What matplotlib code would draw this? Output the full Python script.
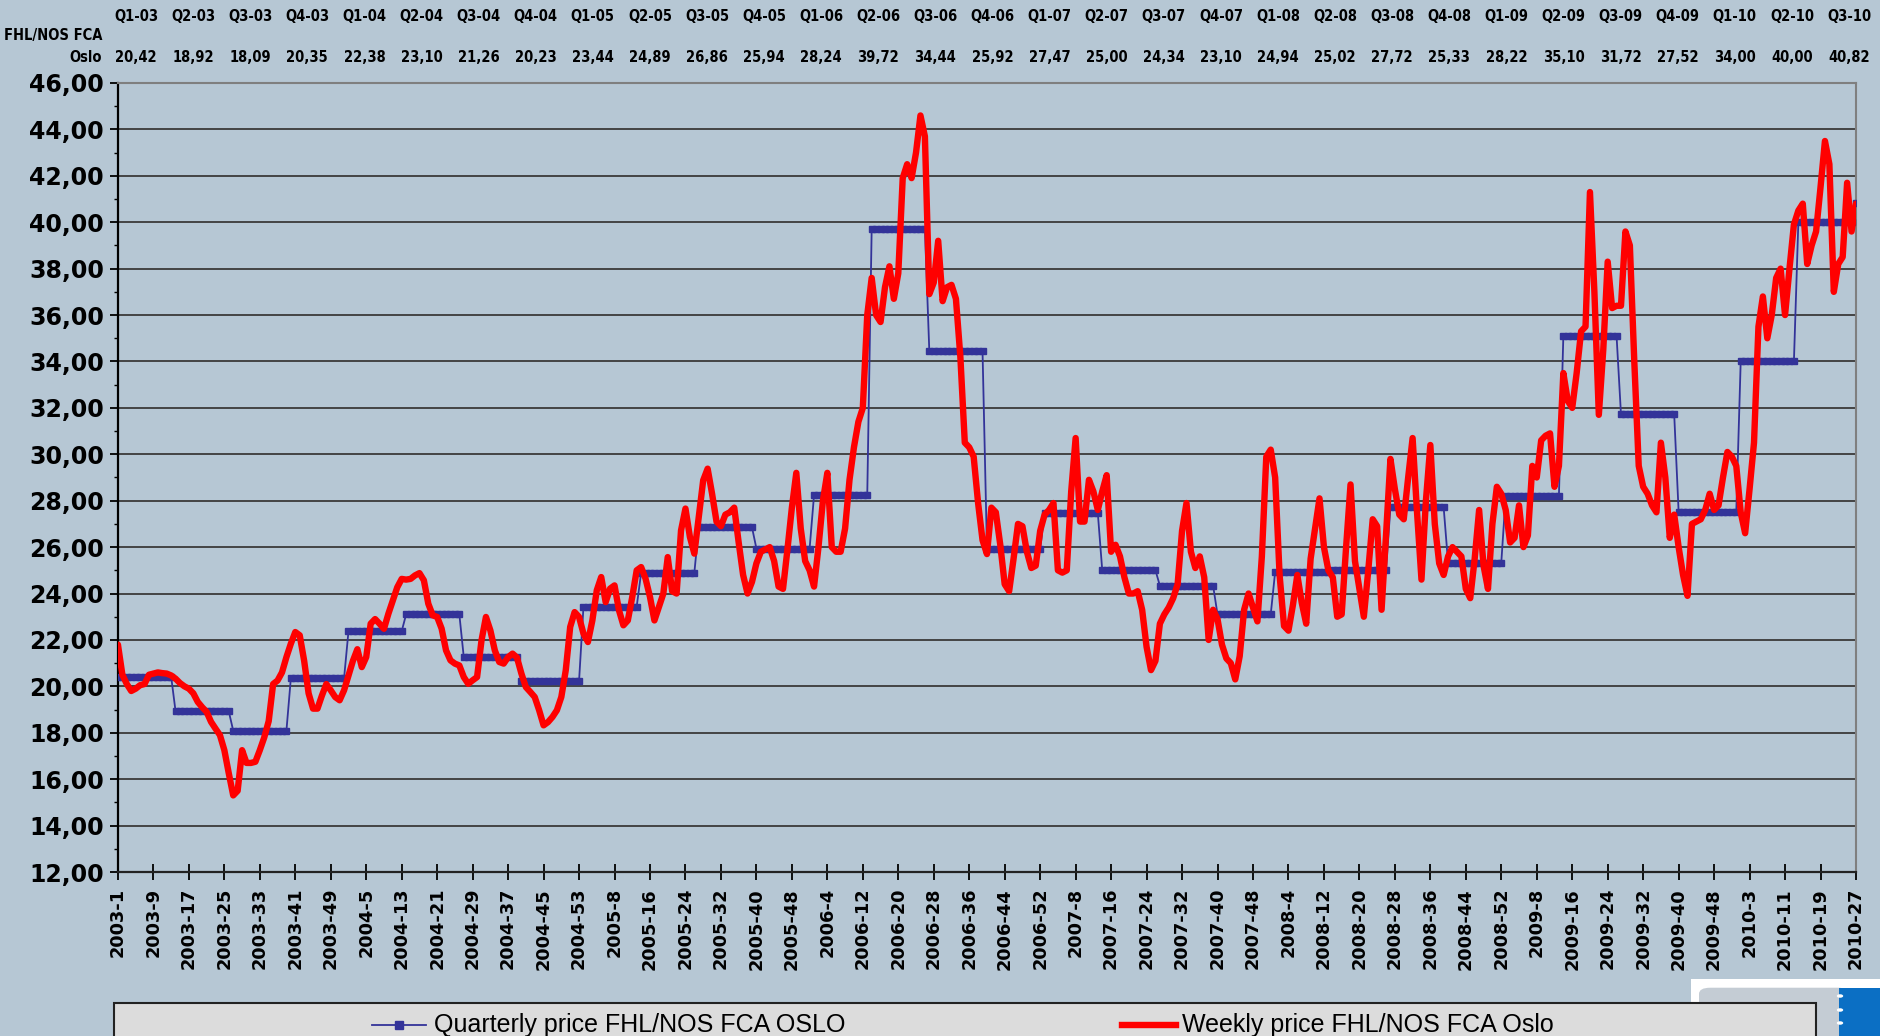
import numpy as np
import matplotlib
matplotlib.use("Agg")
import matplotlib.pyplot as plt
from matplotlib import font_manager
from matplotlib.lines import Line2D
from matplotlib.patches import Rectangle, FancyBboxPatch, Circle

# weekly price FHL/NOS FCA Oslo (NOK/kg), one value per ISO week
weekly_2003 = [21.8, 20.5, 20.1, 19.8, 19.9, 20.05, 20.1, 20.5, 20.55, 20.6,
               20.57, 20.55, 20.47, 20.33, 20.14, 20.0, 19.9, 19.7, 19.33, 19.1,
               18.9, 18.47, 18.18, 17.9, 17.25, 16.25, 15.3, 15.5, 17.25, 16.7,
               16.7, 16.75, 17.25, 17.8, 18.5, 20.1, 20.25, 20.6, 21.26, 21.84,
               22.34, 22.2, 21.1, 19.7, 19.04, 19.04, 19.6, 20.1, 19.83, 19.54,
               19.4, 19.83]
weekly_2004 = [20.47, 21.1, 21.6, 20.83, 21.26, 22.7, 22.9, 22.7, 22.48, 23.13,
               23.7, 24.27, 24.63, 24.6, 24.63, 24.78, 24.88, 24.57, 23.56, 23.06,
               22.99, 22.49, 21.55, 21.12, 20.98, 20.9, 20.4, 20.11, 20.26, 20.4,
               21.98, 22.99, 22.41, 21.55, 21.05, 20.98, 21.26, 21.41, 21.24, 20.55,
               19.97, 19.76, 19.54, 18.97, 18.32, 18.46, 18.68, 18.97, 19.54, 20.69,
               22.56, 23.2, 22.99]
weekly_2005 = [22.27, 21.91, 22.84, 24.14, 24.71, 23.63, 24.21, 24.35, 23.28, 22.63,
               22.84, 23.85, 25.0, 25.14, 24.64, 23.85, 22.84, 23.42, 23.99, 25.57,
               24.1, 24.0, 26.72, 27.66, 26.44, 25.72, 27.3, 28.88, 29.38, 28.3,
               27.1, 26.9, 27.4, 27.5, 27.7, 26.2, 24.8, 24.0, 24.5, 25.3,
               25.8, 25.9, 26.0, 25.4, 24.3, 24.2, 25.9, 27.7, 29.2, 26.8,
               25.4, 25.0]
weekly_2006 = [24.3, 26.0, 28.0, 29.2, 26.0, 25.8, 25.8, 26.8, 28.9, 30.3,
               31.4, 32.0, 36.0, 37.6, 36.0, 35.7, 37.2, 38.1, 36.7, 37.8,
               41.9, 42.5, 41.9, 43.0, 44.6, 43.7, 36.9, 37.4, 39.2, 36.6,
               37.2, 37.3, 36.7, 34.2, 30.5, 30.3, 29.9, 27.9, 26.3, 25.7,
               27.7, 27.5, 26.1, 24.4, 24.1, 25.5, 27.0, 26.9, 25.8, 25.1,
               25.2, 26.7]
weekly_2007 = [27.4, 27.6, 27.9, 25.0, 24.9, 25.0, 28.4, 30.7, 27.1, 27.1,
               28.9, 28.4, 27.6, 28.4, 29.1, 25.8, 26.1, 25.6, 24.7, 24.0,
               24.0, 24.1, 23.3, 21.7, 20.7, 21.1, 22.7, 23.1, 23.4, 23.8,
               24.4, 26.7, 27.9, 25.8, 25.1, 25.6, 24.7, 22.0, 23.3, 22.9,
               21.8, 21.2, 21.0, 20.3, 21.3, 23.3, 24.0, 23.4, 22.8, 25.6,
               29.9, 30.2]
weekly_2008 = [29.0, 24.8, 22.6, 22.4, 23.5, 24.8, 23.6, 22.7, 25.5, 26.8,
               28.1, 26.0, 25.0, 24.7, 23.0, 23.1, 26.0, 28.7, 25.4, 24.2,
               23.0, 25.0, 27.2, 26.9, 23.3, 26.5, 29.8, 28.5, 27.4, 27.2,
               29.0, 30.7, 27.5, 24.6, 28.0, 30.4, 27.0, 25.3, 24.8, 25.6,
               26.0, 25.8, 25.6, 24.2, 23.8, 25.5, 27.6, 25.2, 24.2, 27.0,
               28.6, 28.3]
weekly_2009 = [27.6, 26.2, 26.4, 27.8, 26.0, 26.5, 29.5, 29.0, 30.6, 30.8,
               30.9, 28.6, 29.5, 33.5, 32.3, 32.0, 33.5, 35.3, 35.5, 41.3,
               37.0, 31.7, 34.5, 38.3, 36.3, 36.4, 36.4, 39.6, 39.0, 34.0,
               29.5, 28.6, 28.3, 27.8, 27.5, 30.5, 29.0, 26.4, 27.4, 26.0,
               24.8, 23.9, 27.0, 27.1, 27.2, 27.6, 28.3, 27.6, 27.8, 29.0,
               30.1, 29.9, 29.5]
weekly_2010 = [27.5, 26.6, 28.5, 30.5, 35.5, 36.8, 35.0, 36.0, 37.6, 38.0,
               36.0, 38.0, 39.9, 40.5, 40.8, 38.2, 39.0, 39.6, 41.5, 43.5,
               42.5, 37.0, 38.2, 38.5, 41.7, 39.6, 40.8]

years = [2003, 2004, 2005, 2006, 2007, 2008, 2009, 2010]

quarter_labels = ["Q1-03", "Q2-03", "Q3-03", "Q4-03", "Q1-04", "Q2-04", "Q3-04", "Q4-04",
                  "Q1-05", "Q2-05", "Q3-05", "Q4-05", "Q1-06", "Q2-06", "Q3-06", "Q4-06",
                  "Q1-07", "Q2-07", "Q3-07", "Q4-07", "Q1-08", "Q2-08", "Q3-08", "Q4-08",
                  "Q1-09", "Q2-09", "Q3-09", "Q4-09", "Q1-10", "Q2-10", "Q3-10"]
quarter_prices = [20.42, 18.92, 18.09, 20.35, 22.38, 23.10, 21.26, 20.23,
                  23.44, 24.89, 26.86, 25.94, 28.24, 39.72, 34.44, 25.92,
                  27.47, 25.00, 24.34, 23.10, 24.94, 25.02, 27.72, 25.33,
                  28.22, 35.10, 31.72, 27.52, 34.00, 40.00, 40.82]

yticks = np.arange(12, 47, 2)

BG = "#b6c7d4"
BLUE = "#333399"

yearly = [weekly_2003, weekly_2004, weekly_2005, weekly_2006,
          weekly_2007, weekly_2008, weekly_2009, weekly_2010]

weekly = []
week_labels = []
quarterly = []
for yr, vals in zip(years, yearly):
    for i, v in enumerate(vals):
        wk = i + 1
        weekly.append(v)
        week_labels.append("%d-%d" % (yr, wk))
        qi = (yr - 2003) * 4 + min((wk - 1) // 13, 3)
        quarterly.append(quarter_prices[qi])

x = np.arange(len(weekly))

# narrow bold face for the header table, whatever is installed
fonts = font_manager.fontManager.ttflist
if any(f.name == "Liberation Sans Narrow" for f in fonts):
    hdr_font = dict(family="Liberation Sans Narrow", fontweight="bold", fontsize=12)
elif any(f.name == "DejaVu Sans" and f.stretch == "condensed" for f in fonts):
    hdr_font = dict(family="DejaVu Sans", stretch="condensed", fontweight="bold", fontsize=10.5)
else:
    hdr_font = dict(family="Liberation Sans", fontweight="bold", fontsize=10.5)

fig = plt.figure(figsize=(18.81, 10.36), dpi=100, facecolor=BG)
ax = fig.add_axes([0.0627, 0.1583, 0.924, 0.7616])
ax.set_facecolor(BG)

ax.plot(x, quarterly, color=BLUE, lw=1.3, marker="s", ms=4.6,
        mfc=BLUE, mec=BLUE, zorder=3)
ax.plot(x, weekly, color="#ff0000", lw=4.6, solid_joinstyle="round",
        solid_capstyle="round", zorder=4)

ax.set_xlim(0, len(weekly) - 1)
ax.set_ylim(12, 46)
ax.set_yticks(yticks)
ax.set_yticklabels([("%.2f" % v).replace(".", ",") for v in yticks],
                   fontsize=17, fontweight="bold", family="DejaVu Sans")
ax.set_yticks(np.arange(13, 46, 2), minor=True)
ax.set_xticks(x[::8])
ax.set_xticklabels(week_labels[::8], rotation=90, fontsize=12.8,
                   fontweight="bold", family="DejaVu Sans")

ax.yaxis.grid(True, color="#3a3a3a", lw=1.3)
ax.set_axisbelow(True)
ax.tick_params(axis="y", which="major", direction="out", length=6, width=1.3, pad=4)
ax.tick_params(axis="y", which="minor", direction="out", length=3, width=1.0)
ax.tick_params(axis="x", direction="inout", length=11, width=1.3, pad=6)

ax.spines["left"].set_color("black")
ax.spines["left"].set_linewidth(1.6)
ax.spines["bottom"].set_color("#222222")
ax.spines["bottom"].set_linewidth(1.6)
for s in ("top", "right"):
    ax.spines[s].set_color("#7f7f7f")
    ax.spines[s].set_linewidth(1.5)

# header table of quarterly prices
x0, x1 = 136 / 1881, 1849 / 1881
for i, (lab, val) in enumerate(zip(quarter_labels, quarter_prices)):
    xp = x0 + (x1 - x0) * i / (len(quarter_labels) - 1)
    fig.text(xp, 0.9836, lab, ha="center", va="center", **hdr_font)
    fig.text(xp, 0.9445, ("%.2f" % val).replace(".", ","), ha="center", va="center", **hdr_font)
fig.text(102 / 1881, 0.9653, "FHL/NOS FCA", ha="right", va="center", **hdr_font)
fig.text(102 / 1881, 0.9445, "Oslo", ha="right", va="center", **hdr_font)

# logo corner, bottom right
fig.patches.append(Rectangle((1691 / 1881, 0), 190 / 1881, 57 / 1036,
                             transform=fig.transFigure, facecolor="white",
                             edgecolor="none", zorder=1))
fig.patches.append(FancyBboxPatch((1699 / 1881, -0.02), 150 / 1881, 69 / 1036,
                                  boxstyle="round,pad=0,rounding_size=0.006",
                                  transform=fig.transFigure, facecolor="#c4ccd4",
                                  edgecolor="none", zorder=2))
fig.patches.append(Rectangle((1839 / 1881, 0), 42 / 1881, 48 / 1036,
                             transform=fig.transFigure, facecolor="#0b6fc4",
                             edgecolor="none", zorder=3))
for yy in (996, 1010, 1023):
    fig.patches.append(Circle((1840 / 1881, 1 - yy / 1036), 0.0017,
                              transform=fig.transFigure, facecolor="white",
                              edgecolor="none", zorder=4))

# legend box (cut off by the bottom edge, as in the original)
fig.patches.append(Rectangle((114 / 1881, -0.03), (1816 - 114) / 1881, 0.0619,
                             transform=fig.transFigure, facecolor="#dcdcdc",
                             edgecolor="#222222", lw=1.5, zorder=5))
ly = 1 - 1025 / 1036
fig.add_artist(Line2D([372 / 1881, 426 / 1881], [ly, ly], color=BLUE, lw=1.3,
                      transform=fig.transFigure, zorder=6))
fig.add_artist(Line2D([399 / 1881], [ly], color=BLUE, marker="s", ms=6,
                      transform=fig.transFigure, zorder=7))
fig.text(434 / 1881, ly, "Quarterly price FHL/NOS FCA OSLO", ha="left", va="center",
         fontsize=18, family="Liberation Sans", zorder=7)
fig.add_artist(Line2D([1122 / 1881, 1176 / 1881], [ly, ly], color="#ff0000", lw=4.6,
                      transform=fig.transFigure, zorder=6))
fig.text(1182 / 1881, ly, "Weekly price FHL/NOS FCA Oslo", ha="left", va="center",
         fontsize=18, family="Liberation Sans", zorder=7)

fig.savefig("out.png", dpi=100, facecolor=BG)
